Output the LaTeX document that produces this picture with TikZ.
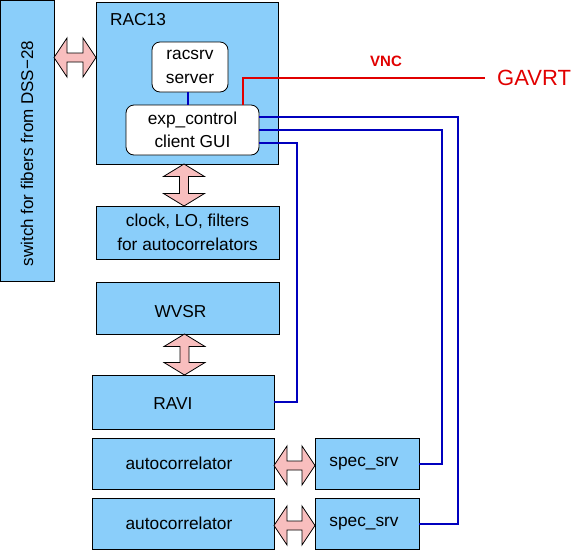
\documentclass[tikz,border=0pt]{standalone}
\usepackage{fontspec}
\setmainfont{Liberation Sans}
\usetikzlibrary{calc}
\definecolor{boxblue}{RGB}{138,206,250}
\definecolor{arrpink}{RGB}{248,190,190}
\definecolor{lineblue}{RGB}{0,0,190}
\definecolor{linered}{RGB}{225,0,0}
\newcommand\harr[2]{\draw[arrstyle] (#1) -- ($(#1)+(13,-19.5)$) -- ($(#1)+(13,-4.5)$) -- ($(#2)+(-13,-4.5)$) -- ($(#2)+(-13,-19.5)$) -- (#2) -- ($(#2)+(-13,19.5)$) -- ($(#2)+(-13,4.5)$) -- ($(#1)+(13,4.5)$) -- ($(#1)+(13,19.5)$) -- cycle;}
\newcommand\varr[2]{\draw[arrstyle] (#1) -- ($(#1)+(-20.5,12.5)$) -- ($(#1)+(-4.5,12.5)$) -- ($(#2)+(-4.5,-12.5)$) -- ($(#2)+(-20.5,-12.5)$) -- (#2) -- ($(#2)+(20.5,-12.5)$) -- ($(#2)+(4.5,-12.5)$) -- ($(#1)+(4.5,12.5)$) -- ($(#1)+(20.5,12.5)$) -- cycle;}
\begin{document}
\begin{tikzpicture}[x=1pt,y=-1pt,
  font=\fontsize{17.3}{23.5}\selectfont,
  bbox/.style={draw=black, fill=boxblue, line width=0.8pt, inner sep=0pt, outer sep=0pt},
  rbox/.style={draw=black, fill=white, line width=0.8pt, rounded corners=8pt, inner sep=0pt, outer sep=0pt, align=center},
  arrstyle/.style={draw=black, fill=arrpink, line width=0.8pt, line join=miter},
  blueline/.style={draw=lineblue, line width=2pt},
  redline/.style={draw=linered, line width=2pt}]
\useasboundingbox (0,0) rectangle (582,550);
\fill[white] (0,0) rectangle (582,550);
% boxes
\node[bbox, minimum width=54pt, minimum height=281pt] (sw) at (27,140.5) {};
\node[rotate=90, font=\fontsize{17}{20}\selectfont] (swtxt) at (27,153.5) {switch for fibers from DSS\textminus28};
\node[bbox, minimum width=182pt, minimum height=162pt] (rac) at (187,83) {};
\node[anchor=base west, inner sep=0pt] (raclbl) at (110,25) {RAC13};
\node[rbox, minimum width=76pt, minimum height=50pt] (racsrv) at (190,67) {racsrv\\server};
\node[rbox, minimum width=133pt, minimum height=50pt] (exp) at (192.5,130) {exp\_control\\client GUI};
\node[bbox, minimum width=183pt, minimum height=53pt, align=center] (clock) at (187.5,232.5) {clock, LO, filters\\for autocorrelators};
\node[bbox, minimum width=183pt, minimum height=52pt, label={[xshift=-7pt,yshift=-4pt]center:WVSR}] (wvsr) at (187.5,308) {};
\node[bbox, minimum width=182pt, minimum height=54pt, label={[xshift=-10pt,yshift=-2pt]center:RAVI}] (ravi) at (183,402) {};
\node[bbox, minimum width=182pt, minimum height=51pt, label={[xshift=-4pt]center:autocorrelator}] (auto1) at (183,463.5) {};
\node[bbox, minimum width=182pt, minimum height=51pt, label={[xshift=-4pt]center:autocorrelator}] (auto2) at (183,523.5) {};
\node[bbox, minimum width=104pt, minimum height=51pt, label={[xshift=-3pt]center:spec\_srv}] (spec1) at (367,463.5) {};
\node[bbox, minimum width=104pt, minimum height=51pt, label={[xshift=-3pt]center:spec\_srv}] (spec2) at (367,523.5) {};
\node[anchor=west, inner sep=0pt, text=linered, font=\fontsize{22}{26}\selectfont] (gavrt) at (497,77.5) {GAVRT};
\node[text=linered, inner sep=0pt, font=\fontsize{15}{18}\selectfont\bfseries] (vnc) at (386,61.5) {VNC};
% double arrows
\coordinate (h1a) at (sw.east |- 0,57.5);
\coordinate (h1b) at (rac.west |- 0,57.5);
\harr{h1a}{h1b}
\coordinate (v1a) at ([xshift=-3pt]rac.south);
\coordinate (v1b) at ([xshift=-3.5pt]clock.north);
\varr{v1a}{v1b}
\coordinate (v2a) at ([xshift=-3pt]wvsr.south);
\coordinate (v2b) at ([xshift=1.5pt]ravi.north);
\varr{v2a}{v2b}
\coordinate (h2a) at ([yshift=-2pt]auto1.east);
\coordinate (h2b) at ([yshift=-2pt]spec1.west);
\harr{h2a}{h2b}
\coordinate (h3a) at ([yshift=-2pt]auto2.east);
\coordinate (h3b) at ([yshift=-2pt]spec2.west);
\harr{h3a}{h3b}
% connectors
\draw[blueline] ([xshift=-2pt]racsrv.south) -- ([xshift=-2pt]racsrv.south |- exp.north);
\draw[redline] ([xshift=50.5pt]exp.north) |- ([xshift=-12pt]gavrt.west);
\draw[blueline] ([yshift=13pt]exp.east) -- (458,117) |- (spec2.east);
\draw[blueline] (exp.east) -- (442,130) |- (spec1.east);
\draw[blueline] ([yshift=-13pt]exp.east) -- (297,143) |- (ravi.east);
\end{tikzpicture}
\end{document}
